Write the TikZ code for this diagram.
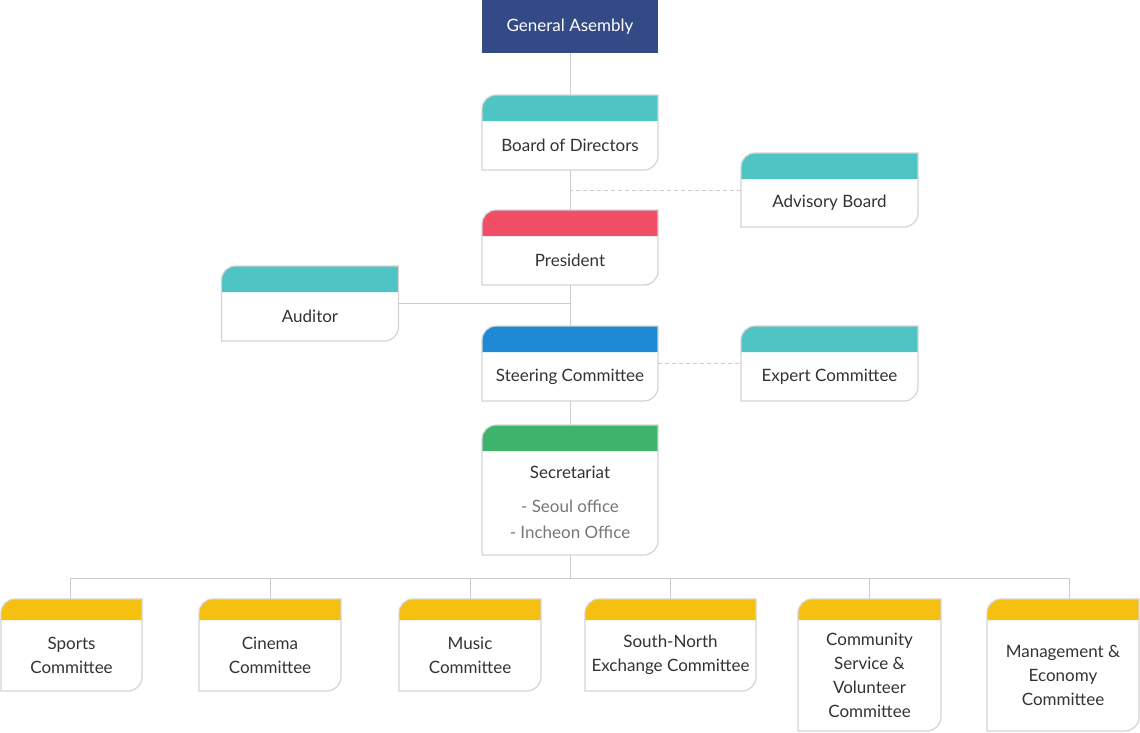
\documentclass[tikz,border=0pt]{standalone}
\usepackage{fontspec}
\setmainfont{Lato}
\usepackage{tikz}
\usetikzlibrary{calc, positioning, backgrounds}
\definecolor{navy}{HTML}{344A86}
\definecolor{barteal}{HTML}{4EC4C4}
\definecolor{barred}{HTML}{F04F65}
\definecolor{barblue}{HTML}{1E8AD6}
\definecolor{bargreen}{HTML}{3DB36B}
\definecolor{baryellow}{HTML}{F5C010}
\definecolor{linegray}{HTML}{CCCCCC}
\definecolor{framegray}{HTML}{D4D4D4}
\definecolor{textdark}{HTML}{333333}
\definecolor{subgray}{HTML}{777777}
\newcommand{\lbl}{\fontsize{17}{24}\selectfont}
% #1 node, #2 bar colour, #3 bar height
\newcommand{\unitframe}[3]{%
  \fill[white] ([yshift=-14pt]#1.north west) arc[start angle=180, end angle=90, radius=14pt] -- (#1.north east) -- ([yshift=14pt]#1.south east) arc[start angle=0, end angle=-90, radius=14pt] -- (#1.south west) -- cycle;
  \fill[#2] ([yshift=-#3]#1.north west) -- ([yshift=-14pt]#1.north west) arc[start angle=180, end angle=90, radius=14pt] -- (#1.north east) -- ([yshift=-#3]#1.north east) -- cycle;
  \draw[framegray, line width=1.2pt] ([yshift=-14pt]#1.north west) arc[start angle=180, end angle=90, radius=14pt] -- (#1.north east) -- ([yshift=14pt]#1.south east) arc[start angle=0, end angle=-90, radius=14pt] -- (#1.south west) -- cycle;
}

\begin{document}
\begin{tikzpicture}[x=1pt, y=1pt,
  unit/.style={rectangle, inner sep=0pt, outer sep=0pt},
  caption/.style 2 args={label={[font=\lbl, text=textdark, align=center, yshift=#1]center:#2}},
  conn/.style={linegray, line width=1pt},
  link/.style={linegray, line width=1pt, dash pattern=on 4pt off 3pt}]
\useasboundingbox (0,0) rectangle (1140,-732);

\node[unit, minimum width=176pt, minimum height=53pt, fill=navy, text=white, font=\lbl] (ga) at (570,-26.5) {General Asembly};

\node[unit, minimum width=176pt, minimum height=75pt, caption={-13pt}{Board of Directors}] (board) at (570,-132.5) {};
\node[unit, minimum width=177pt, minimum height=74pt, caption={-13pt}{Advisory Board}] (adv) at (829.5,-190) {};
\node[unit, minimum width=176pt, minimum height=75pt, caption={-13pt}{President}] (pres) at (570,-247.5) {};
\node[unit, minimum width=177pt, minimum height=75pt, caption={-13pt}{Auditor}] (aud) at (310,-303.5) {};
\node[unit, minimum width=176pt, minimum height=75pt, caption={-13pt}{Steering Committee}] (steer) at (570,-363.5) {};
\node[unit, minimum width=177pt, minimum height=75pt, caption={-13pt}{Expert Committee}] (exp) at (829.5,-363.5) {};
\node[unit, minimum width=176pt, minimum height=130pt, caption={-12pt}{Secretariat\\[10pt]\textcolor{subgray}{- Seoul office}\\[2pt]\textcolor{subgray}{- Incheon Office}}] (sec) at (570,-490) {};

\node[unit, minimum width=141pt, minimum height=92pt, caption={-10pt}{Sports\\Committee}] (sports) at (71.5,-645) {};
\node[unit, minimum width=142pt, minimum height=92pt, caption={-10pt}{Cinema\\Committee}] (cinema) at (270,-645) {};
\node[unit, minimum width=142pt, minimum height=92pt, caption={-10pt}{Music\\Committee}] (music) at (470,-645) {};
\node[unit, minimum width=171pt, minimum height=92pt, caption={-10pt}{South-North\\Exchange Committee}] (sn) at (670.5,-645) {};
\node[unit, minimum width=143pt, minimum height=132pt, caption={-10pt}{Community\\Service \&\\Volunteer\\Committee}] (comm) at (869.5,-665) {};
\node[unit, minimum width=152pt, minimum height=132pt, caption={-10pt}{Management \&\\Economy\\Committee}] (mgmt) at (1063,-665) {};

\coordinate (busL) at (70,-578);
\coordinate (busR) at (1069,-578);

\begin{scope}[on background layer]
\draw[conn] (ga) -- (sec);
\draw[conn] (aud.east) -- (aud.east -| ga);
\draw[link] (adv.west) -- (adv.west -| ga);
\draw[link] (steer.east) -- (exp.west);
\draw[conn] (sec.south) -- (sec.south |- busL);
\draw[conn] (busL) -- (busR);
\draw[conn] (busL) -- (busL |- sports.north);
\draw[conn] (cinema.north |- busL) -- (cinema.north);
\draw[conn] (music.north |- busL) -- (music.north);
\draw[conn] (sn.north |- busL) -- (sn.north);
\draw[conn] (comm.north |- busL) -- (comm.north);
\draw[conn] (busR) -- (busR |- mgmt.north);
\end{scope}

\begin{scope}[on background layer]
\unitframe{board}{barteal}{26pt}
\unitframe{adv}{barteal}{26pt}
\unitframe{pres}{barred}{26pt}
\unitframe{aud}{barteal}{26pt}
\unitframe{steer}{barblue}{26pt}
\unitframe{exp}{barteal}{26pt}
\unitframe{sec}{bargreen}{26pt}
\unitframe{sports}{baryellow}{21pt}
\unitframe{cinema}{baryellow}{21pt}
\unitframe{music}{baryellow}{21pt}
\unitframe{sn}{baryellow}{21pt}
\unitframe{comm}{baryellow}{21pt}
\unitframe{mgmt}{baryellow}{21pt}
\end{scope}
\end{tikzpicture}
\end{document}
